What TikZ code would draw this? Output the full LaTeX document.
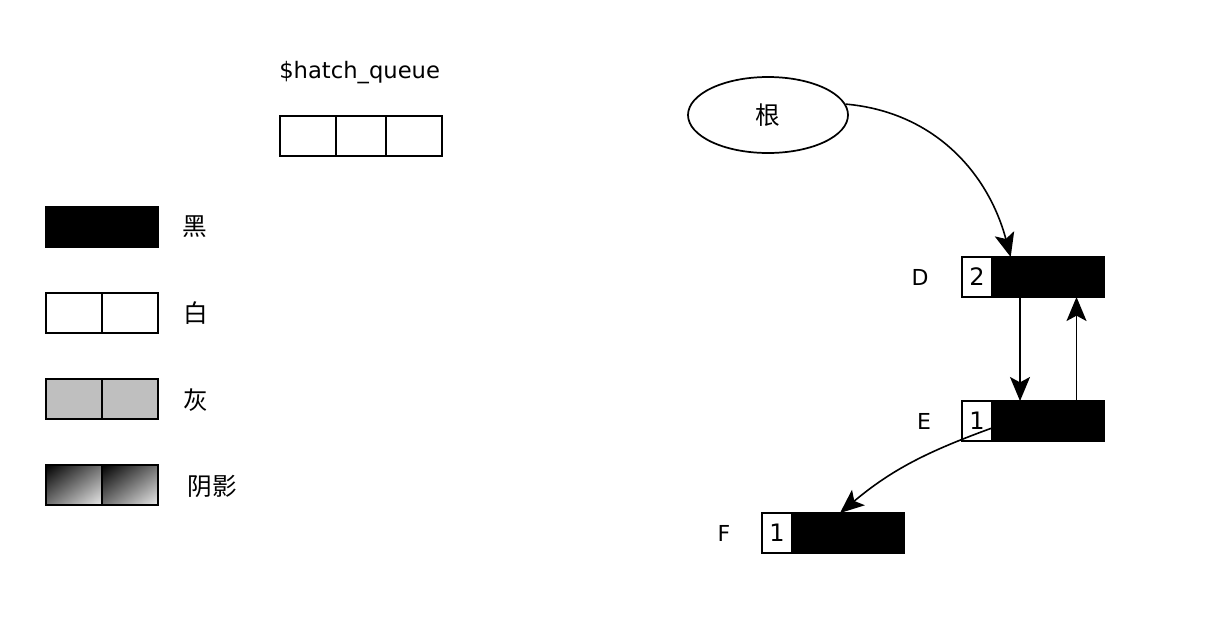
\documentclass[tikz,border=0pt]{standalone}
\usepackage{fontspec}
\setmainfont{DejaVu Sans}
\newfontfamily\cjk{Noto Sans CJK SC}
\usetikzlibrary{arrows.meta,shapes.geometric,shadings}

\begin{document}
\begin{tikzpicture}[
        x=0.75pt, y=-0.75pt,
        cell/.style={draw, line width=1.3pt, minimum width=42pt, minimum height=30pt, inner sep=0pt, outer sep=0pt},
        numcell/.style={cell, minimum width=22.5pt, font=\fontsize{18}{18}\selectfont},
        blackcell/.style={cell, fill=black, draw=black},
        graycell/.style={cell, fill=lightgray},
        shadecell/.style={cell, upper left=black, upper right=black!55, lower left=black!55, lower right=black!8},
        lbl/.style={font=\fontsize{16.5}{16.5}\selectfont, inner sep=0pt},
        zh/.style={font=\cjk\fontsize{18.5}{18.5}\selectfont, inner sep=0pt},
        ptr/.style={-{Stealth[length=18pt, width=15pt, inset=4pt]}, line width=1.2pt}
    ]
        \useasboundingbox (0,0) rectangle (1226,626);

        % legend
        \node[blackcell] (blk1) at (74,227) {};
        \node[blackcell] (blk2) at (130,227) {};
        \node[zh] (blktxt) at (195,227) {黑};
        \node[cell] (wht1) at (74,313) {};
        \node[cell] (wht2) at (130,313) {};
        \node[zh] (whttxt) at (196,313) {白};
        \node[graycell] (gry1) at (74,399) {};
        \node[graycell] (gry2) at (130,399) {};
        \node[zh] (grytxt) at (196,400) {灰};
        \node[shadecell] (shd1) at (74,485) {};
        \node[shadecell] (shd2) at (130,485) {};
        \node[zh] (shdtxt) at (212,486) {阴影};

        % hatch queue
        \node[lbl, anchor=west, font=\fontsize{17}{17}\selectfont] (qname) at (279,73) {\$hatch\_queue};
        \node[cell] (q1) at (308,136) {};
        \node[cell, minimum width=37.5pt] (q2) at (361,136) {};
        \node[cell] (q3) at (414,136) {};

        % objects
        \node[ellipse, draw, line width=1.3pt, minimum width=120pt, minimum height=57pt, zh] (root) at (768,115) {根};

        \node[lbl] (dlbl) at (920,277) {D};
        \node[numcell] (d0) at (977,277) {2};
        \node[blackcell] (d1) at (1020,277) {};
        \node[blackcell] (d2) at (1076.5,277) {};

        \node[lbl] (elbl) at (924,421) {E};
        \node[numcell] (e0) at (977,421) {1};
        \node[blackcell] (e1) at (1020,421) {};
        \node[blackcell] (e2) at (1076.5,421) {};

        \node[lbl] (flbl) at (724,533) {F};
        \node[numcell] (f0) at (777,533) {1};
        \node[blackcell] (f1) at (820,533) {};
        \node[blackcell] (f2) at (876.5,533) {};

        \draw[ptr] (root.8) to[out=-5, in=105] (d1.115);
        \draw[ptr] (d1.south) -- (e1.north);
        \draw[ptr] (e2.north) -- (d2.south);
        \draw[ptr] (e0.-25) to[out=200, in=40] (f1.45);
    \end{tikzpicture}
\end{document}
